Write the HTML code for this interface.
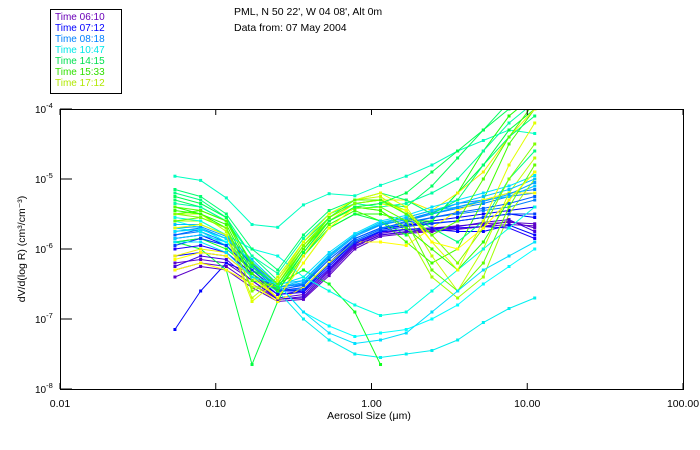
<!DOCTYPE html>
<html><head><meta charset="utf-8"><style>
html,body{margin:0;padding:0;background:#fff;}
svg{display:block;font-family:"Liberation Sans",sans-serif;}
</style></head><body>
<svg id="chart" width="700" height="450" xmlns="http://www.w3.org/2000/svg">
<rect width="700" height="450" fill="#fff"/>
<text x="234" y="15" font-size="10.5">PML, N 50 22', W 04 08', Alt 0m</text>
<text x="234" y="31" font-size="10.5">Data from: 07 May 2004</text>
<g>
<rect x="50.5" y="9.5" width="71" height="84" fill="none" stroke="#000"/>
<text x="55" y="20" font-size="10" fill="#6a00b8">Time 06:10</text>
<text x="55" y="31" font-size="10" fill="#0000ff">Time 07:12</text>
<text x="55" y="42" font-size="10" fill="#0080ff">Time 08:18</text>
<text x="55" y="53" font-size="10" fill="#00e8e8">Time 10:47</text>
<text x="55" y="64" font-size="10" fill="#00e050">Time 14:15</text>
<text x="55" y="75" font-size="10" fill="#30e000">Time 15:33</text>
<text x="55" y="86" font-size="10" fill="#b0e800">Time 17:12</text>
</g>
<defs><clipPath id="pc"><rect x="60" y="109" width="623" height="280"/></clipPath></defs>
<g id="series" clip-path="url(#pc)"></g>
<g id="axes"></g>
<text x="369" y="419" font-size="10.5" text-anchor="middle">Aerosol Size (μm)</text>
<text transform="translate(25,249) rotate(-90)" font-size="10.5" text-anchor="middle">dV/d(log R) (cm³/cm⁻³)</text>
</svg>
<script>
// size bins (log10 µm)
const binLog10Size = [-1.262,-1.097,-0.932,-0.767,-0.602,-0.437,-0.272,-0.107,0.058,0.223,0.388,0.553,0.718,0.883,1.048];
const xTickLabels = ["0.01","0.10","1.00","10.00","100.00"];
const yTickExps = [-4,-5,-6,-7,-8];
const seriesColors = ["#5a00c8","#5a00c8","#5a00c8","#0000ff","#0000ff","#0000ff","#0080ff","#0080ff","#0080ff","#00c8ff","#00ffc0","#00ffff","#00f0f0","#00ff60","#20ff00","#40ff00","#00ff80","#00ff40","#10ff20","#ffff00","#f0f000","#c0ff00","#a0ff00",
 "#4000e0","#2000ff","#0040ff","#0060ff","#00a0ff","#00c0ff","#00e0ff","#00ffe0","#00ffa0","#00ff70","#30ff00","#60ff00","#80ff00","#e0ff00","#ffff00","#00ff50","#00e0ff","#50ff00"];
const s0 = [-6.2,-6.15,-6.2,-6.45,-6.7,-6.65,-6.3,-5.93,-5.78,-5.72,-5.7,-5.67,-5.64,-5.62,-5.64];
const s1 = [-6.3,-6.2,-6.25,-6.5,-6.72,-6.7,-6.35,-5.97,-5.8,-5.76,-5.74,-5.7,-5.68,-5.65,-5.67];
const s2 = [-6.4,-6.25,-6.3,-6.55,-6.75,-6.72,-6.38,-6.0,-5.82,-5.78,-5.75,-5.72,-5.68,-5.6,-5.7];
const s3 = [-6.1,-6.05,-6.1,-6.4,-6.65,-6.6,-6.25,-5.9,-5.75,-5.72,-5.72,-5.75,-5.75,-5.66,-5.8];
const s4 = [-7.15,-6.6,-6.2,-6.35,-6.6,-6.6,-6.2,-5.88,-5.72,-5.66,-5.63,-5.6,-5.55,-5.5,-5.55];
const s5 = [-5.85,-5.8,-5.95,-6.3,-6.6,-6.55,-6.2,-5.85,-5.7,-5.66,-5.6,-5.55,-5.5,-5.45,-5.4];
const s6 = [-5.8,-5.75,-5.9,-6.25,-6.6,-6.5,-6.15,-5.85,-5.7,-5.65,-5.55,-5.5,-5.45,-5.4,-5.3];
const s7 = [-5.9,-5.85,-5.95,-6.3,-6.62,-6.55,-6.2,-5.88,-5.72,-5.6,-5.5,-5.42,-5.35,-5.25,-5.2];
const s8 = [-5.75,-5.7,-5.85,-6.2,-6.55,-6.5,-6.1,-5.8,-5.65,-5.58,-5.48,-5.35,-5.3,-5.2,-5.15];
const s9 = [-5.85,-5.8,-5.9,-6.25,-6.55,-6.45,-6.1,-5.8,-5.62,-5.55,-5.45,-5.4,-5.3,-5.25,-5.1];
const s10 = [-4.96,-5.02,-5.27,-5.65,-5.69,-5.37,-5.21,-5.24,-5.09,-4.96,-4.8,-4.6,-4.45,-4.3,-4.35];
const s11 = [-5.6,-5.7,-5.9,-6.3,-6.5,-6.9,-7.1,-7.25,-7.2,-7.15,-7.0,-6.8,-6.5,-6.25,-6.0];
const s12 = [-5.7,-5.75,-5.95,-6.4,-6.6,-7.0,-7.3,-7.5,-7.55,-7.5,-7.45,-7.3,-7.05,-6.85,-6.7];
const s13 = [-5.3,-5.4,-5.6,-6.2,-6.5,-6.0,-5.6,-5.4,-5.35,-5.4,-5.1,-4.7,-4.3,-3.9,-3.7];
const s14 = [-5.4,-5.5,-5.7,-6.4,-6.7,-6.2,-5.7,-5.5,-5.5,-5.6,-5.6,-5.2,-4.6,-4.1,-3.8];
const s15 = [-5.5,-5.45,-5.6,-6.3,-6.6,-6.1,-5.65,-5.45,-5.6,-5.9,-6.2,-6.0,-5.3,-4.5,-4.0];
const s16 = [-5.2,-5.3,-5.55,-6.1,-6.45,-5.9,-5.55,-5.35,-5.3,-5.5,-5.7,-5.9,-5.6,-5.0,-4.6];
const s17 = [-5.9,-6.0,-6.3,-7.65,-6.75,-6.1,-5.7,-5.5,-5.6,-5.8,-5.6,-5.2,-4.8,-4.3,-4.0];
const s18 = [-5.9,-5.85,-6.0,-6.3,-6.5,-6.3,-6.5,-6.9,-7.65,null,null,null,null,null,null];
const s19 = [-6.3,-6.2,-6.3,-6.5,-6.75,-6.55,-6.2,-5.9,-5.9,-5.95,-5.7,-5.45,-5.3,-5.2,-5.2];
const s20 = [-6.1,-6.0,-6.05,-6.35,-6.7,-6.1,-5.6,-5.35,-5.3,-5.3,-5.45,-5.2,-4.9,-4.4,-4.0];
const s21 = [-5.5,-5.5,-5.75,-6.7,-6.4,-5.9,-5.5,-5.3,-5.25,-5.5,-6.1,-6.6,-6.0,-5.2,-4.7];
const s22 = [-5.6,-5.6,-5.8,-6.55,-6.5,-5.95,-5.6,-5.4,-5.45,-5.75,-6.4,-6.7,-6.4,-5.5,-5.0];
const s23 = [-6.25,-6.1,-6.15,-6.45,-6.72,-6.68,-6.32,-5.95,-5.8,-5.75,-5.72,-5.68,-5.62,-5.58,-5.75];
const s24 = [-6.0,-5.95,-6.05,-6.35,-6.65,-6.62,-6.28,-5.92,-5.76,-5.72,-5.7,-5.7,-5.68,-5.7,-5.85];
const s25 = [-5.95,-5.85,-5.95,-6.3,-6.6,-6.58,-6.22,-5.9,-5.74,-5.68,-5.64,-5.6,-5.55,-5.5,-5.5];
const s26 = [-5.8,-5.72,-5.85,-6.22,-6.58,-6.52,-6.15,-5.85,-5.7,-5.62,-5.55,-5.48,-5.42,-5.35,-5.25];
const s27 = [-5.7,-5.68,-5.82,-6.2,-6.55,-6.48,-6.12,-5.82,-5.66,-5.58,-5.5,-5.4,-5.32,-5.22,-5.05];
const s28 = [-5.65,-5.65,-5.8,-6.15,-6.5,-6.45,-6.08,-5.8,-5.64,-5.55,-5.45,-5.35,-5.25,-5.15,-5.0];
const s29 = [-5.75,-5.72,-5.85,-6.18,-6.52,-6.4,-6.05,-5.78,-5.6,-5.52,-5.4,-5.3,-5.2,-5.1,-4.95];
const s30 = [-5.55,-5.6,-5.8,-6.0,-6.1,-6.4,-6.6,-6.8,-6.95,-6.9,-6.6,-6.3,-6.0,-5.7,-5.4];
const s31 = [-5.35,-5.4,-5.6,-6.1,-6.35,-5.85,-5.5,-5.35,-5.4,-5.35,-5.2,-5.0,-4.6,-4.2,-3.9];
const s32 = [-5.15,-5.25,-5.5,-6.0,-6.3,-5.8,-5.45,-5.3,-5.2,-5.3,-5.5,-5.3,-4.8,-4.4,-4.1];
const s33 = [-5.45,-5.5,-5.65,-6.35,-6.6,-6.05,-5.6,-5.4,-5.45,-5.7,-6.0,-6.3,-5.9,-5.3,-4.9];
const s34 = [-5.6,-5.55,-5.7,-6.45,-6.55,-6.0,-5.6,-5.42,-5.4,-5.6,-6.3,-6.6,-6.2,-5.4,-4.8];
const s35 = [-5.5,-5.55,-5.7,-6.6,-6.45,-5.95,-5.55,-5.35,-5.3,-5.45,-5.8,-6.2,-5.7,-5.0,-4.5];
const s36 = [-5.7,-5.65,-5.8,-6.75,-6.45,-5.9,-5.5,-5.3,-5.2,-5.4,-5.9,-6.3,-5.6,-4.8,-4.2];
const s37 = [-6.15,-6.05,-6.1,-6.4,-6.7,-6.2,-5.7,-5.4,-5.35,-5.45,-5.9,-6.0,-5.7,-5.3,-4.9];
const s38 = [-5.25,-5.35,-5.55,-6.25,-6.55,-6.05,-5.6,-5.4,-5.35,-5.2,-4.9,-4.6,-4.3,-4.0,-3.8];
const s39 = [-5.9,-5.9,-6.05,-6.4,-6.5,-6.9,-7.2,-7.35,-7.3,-7.2,-6.9,-6.6,-6.3,-6.1,-5.9];
const s40 = [-5.4,-5.45,-5.6,-6.2,-6.5,-6.0,-5.55,-5.3,-5.3,-5.5,-5.8,-5.6,-5.0,-4.4,-3.9];
const allSeries = [s0,s1,s2,s3,s4,s5,s6,s7,s8,s9,s10,s11,s12,s13,s14,s15,s16,s17,s18,s19,s20,s21,s22,s23,s24,s25,s26,s27,s28,s29,s30,s31,s32,s33,s34,s35,s36,s37,s38,s39,s40];

const NS = "http://www.w3.org/2000/svg";
const X0=60, X1=683, Y0=109, Y1=389;
function xScale(lg){ return X0 + (lg + 2) / 4 * (X1 - X0); }
function yScale(lg){ return Y0 + (-4 - lg) / 4 * (Y1 - Y0); }
function mk(tag, attrs, parent){ const e=document.createElementNS(NS,tag); for(const k in attrs) e.setAttribute(k,attrs[k]); parent.appendChild(e); return e; }

const sg = document.getElementById('series');
allSeries.forEach((vals, si) => {
  const col = seriesColors[si % seriesColors.length];
  const g = mk('g', {}, sg);
  
  
  let d = '';
  vals.forEach((v, i) => {
    if (v === null) return;
    d += (d ? 'L' : 'M') + xScale(binLog10Size[i]).toFixed(1) + ' ' + yScale(v).toFixed(1);
  });
  const p = mk('path', {d: d, fill: 'none', stroke: col, 'stroke-width': 1}, g);
  
  
  vals.forEach((v, i) => {
    if (v === null) return;
    const r = mk('rect', {x: xScale(binLog10Size[i]) - 1.5, y: yScale(v) - 1.5, width: 3, height: 3, fill: col}, g);
    
    
  });
});

const ax = document.getElementById('axes');
const frame = mk('rect', {x: X0 + 0.5, y: Y0 + 0.5, width: X1 - X0, height: Y1 - Y0, fill: 'none', stroke: '#000', 'stroke-width': 1}, ax);


xTickLabels.forEach((lab, i) => {
  const x = xScale(i - 2);
  const t = mk('line', {x1: x, x2: x, y1: Y1, y2: Y1 - 6, stroke: '#000'}, ax);
  
  
  const tt = mk('line', {x1: x, x2: x, y1: Y0, y2: Y0 + 6, stroke: '#000'}, ax);
  
  
  const tx = mk('text', {x: x, y: Y1 + 18, 'font-size': 10.5, 'text-anchor': 'middle'}, ax);
  tx.textContent = lab;
  
  
});
yTickExps.forEach(e => {
  const y = yScale(e);
  const t = mk('line', {x1: X0, x2: X0 + 12, y1: y, y2: y, stroke: '#000'}, ax);
  
  
  const tx = mk('text', {x: 35, y: y + 4, 'font-size': 10}, ax);
  
  
  tx.appendChild(document.createTextNode('10'));
  const sup = mk('tspan', {dy: -5, 'font-size': 7.5}, tx);
  sup.textContent = String(e);
});
</script>
</body></html>
